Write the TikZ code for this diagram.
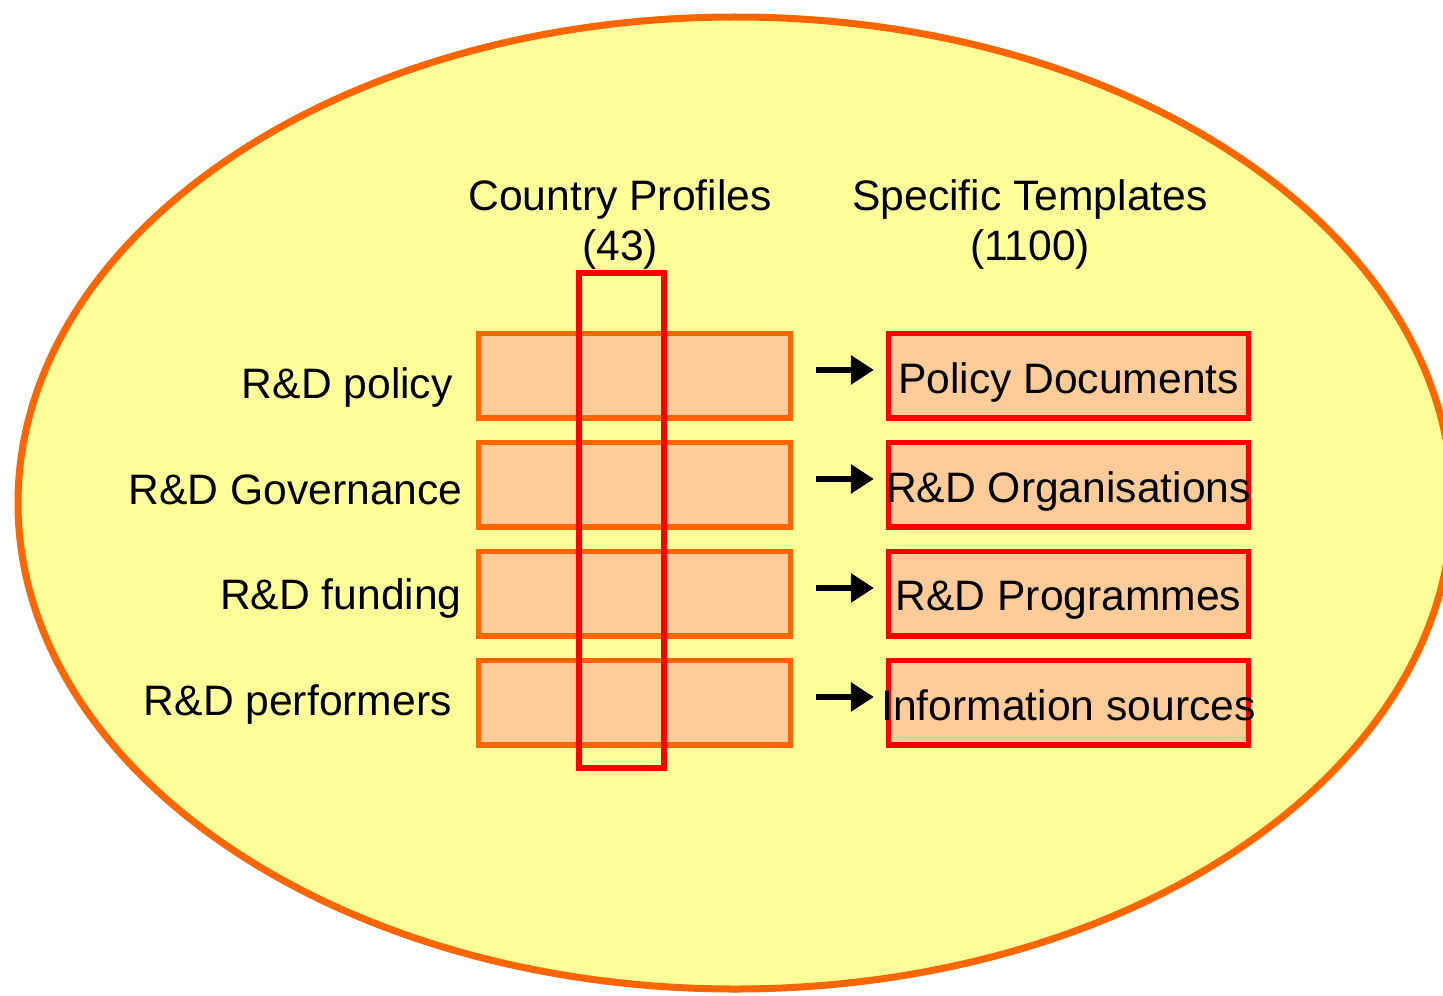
\documentclass[tikz,border=0pt]{standalone}
\usepackage{fontspec}
\setmainfont{Liberation Sans}
\usetikzlibrary{arrows.meta}
\definecolor{paleyellow}{HTML}{FFFF99}
\definecolor{peach}{HTML}{FFCC99}
\definecolor{darkorange}{HTML}{FF6600}

\begin{document}
\begin{tikzpicture}[x=0.5pt,y=-0.5pt,
  every node/.style={font=\fontsize{21.3}{25}\selectfont,inner sep=0pt},
  area/.style={draw=darkorange,fill=peach,line width=2.6pt,minimum width=156pt,minimum height=42.25pt},
  tmpl/.style={draw=red,fill=peach,line width=2.6pt,minimum width=180pt,minimum height=42.25pt},
  tmpltext/.style={text depth=0pt,yshift=-1.1pt},
  arr/.style={-{Triangle[length=11.5pt,width=14pt]},line width=3pt,shorten <=11.5pt,shorten >=6pt}]
  \useasboundingbox (0,0) rectangle (1443,995);
  \draw[draw=darkorange,fill=paleyellow,line width=3.5pt] (735,503) ellipse [x radius=717,y radius=486];
  % rows of the country profiles
  \path (634.5,375.75) node[area] (cp1) {} (634.5,484.75) node[area] (cp2) {}
  (634.5,593.75) node[area] (cp3) {} (634.5,702.75) node[area] (cp4) {};
  \node[draw=red,line width=2.6pt,minimum width=42.5pt,minimum height=247.5pt] (profiles) at (621.5,520.5) {};
  % specific templates
  \path (1068.5,375.75) node[tmpl] (st1) {} (1068.5,484.75) node[tmpl] (st2) {}
  (1068.5,593.75) node[tmpl] (st3) {} (1068.5,702.75) node[tmpl] (st4) {};
  \node[tmpltext] (st1text) at (st1) {Policy Documents};
  \node[tmpltext] (st2text) at (st2) {R\&D Organisations};
  \node[tmpltext] (st3text) at (st3) {R\&D Programmes};
  \node[tmpltext] (st4text) at (st4) {Information sources};
  \draw[arr] ([yshift=2.9pt]cp1.east) -- ([yshift=2.9pt]st1.west);
  \draw[arr] ([yshift=2.9pt]cp2.east) -- ([yshift=2.9pt]st2.west);
  \draw[arr] ([yshift=2.9pt]cp3.east) -- ([yshift=2.9pt]st3.west);
  \draw[arr] ([yshift=2.9pt]cp4.east) -- ([yshift=2.9pt]st4.west);
  % labels
  \node[anchor=base east] (lpolicy) at (453,398) {R\&D policy};
  \node[anchor=base east] (lgov) at (463,504) {R\&D Governance};
  \node[anchor=base east] (lfund) at (462,609) {R\&D funding};
  \node[anchor=base east] (lperf) at (452,715) {R\&D performers};
  \node[align=center] (cptitle) at (620,224) {Country Profiles\\(43)};
  \node[align=center] (sttitle) at (1030,224) {Specific Templates\\(1100)};
\end{tikzpicture}
\end{document}
